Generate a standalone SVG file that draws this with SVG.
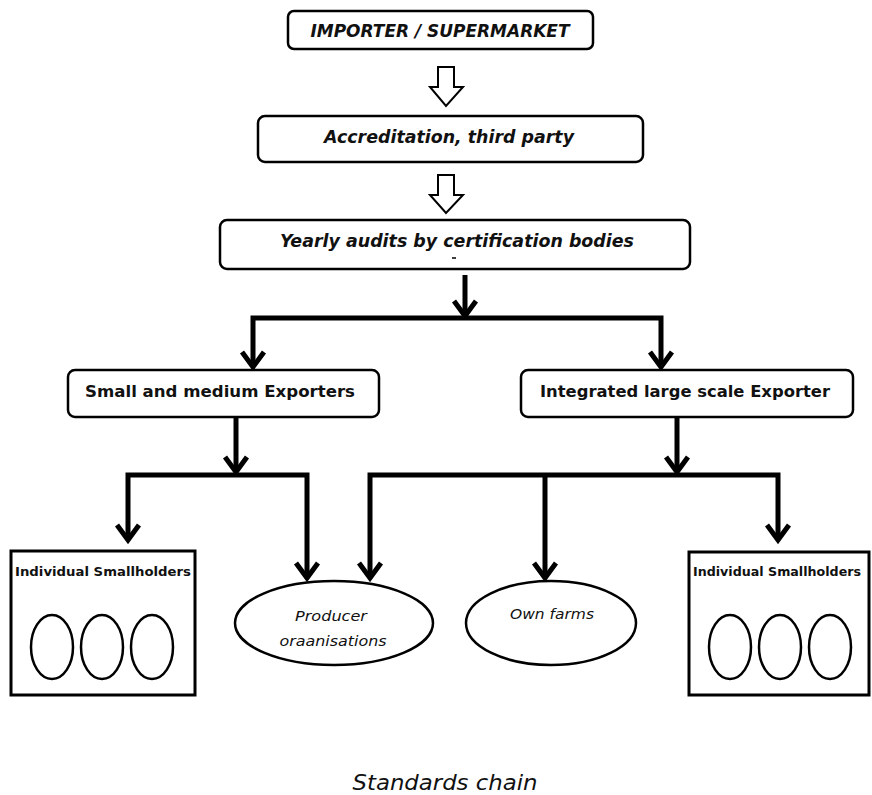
<svg xmlns="http://www.w3.org/2000/svg" xmlns:xlink="http://www.w3.org/1999/xlink" width="872" height="795" viewBox="0 0 872 795">
  <style>
    .box { fill: #fff; stroke: #000; stroke-width: 2.5; }
    .plain { fill: none; stroke: #000; stroke-width: 3; }
    .oval { fill: #fff; stroke: #000; stroke-width: 2.5; }
    .hollow { fill: #fff; stroke: #000; stroke-width: 2; stroke-linejoin: miter; }
    .wire { fill: none; stroke: #000; stroke-width: 5; stroke-linecap: butt; stroke-linejoin: miter; }
    .chev { fill: none; stroke: #000; stroke-width: 5; stroke-linejoin: miter; stroke-miterlimit: 10; }
    .t { font-family: "DejaVu Sans", "Liberation Sans", sans-serif; fill: #111; }
    .bi { font-weight: bold; font-style: italic; }
    .b { font-weight: bold; }
    .i { font-style: italic; }
  </style>
  <defs>
    <path id="chev" class="chev" d="M-11,-17 L0,-2 L11,-17"/>
  </defs>
  <rect width="872" height="795" fill="#fff"/>

  <g id="importer">
    <rect class="box" x="288" y="11" width="305" height="38" rx="6"/>
    <text class="t bi" x="440" y="37" font-size="17" text-anchor="middle" textLength="259" lengthAdjust="spacingAndGlyphs">IMPORTER / SUPERMARKET</text>
  </g>

  <g id="arrow-hollow-1">
    <path class="hollow" d="M438,67 L454,67 L454,87 L463,87 L446,106 L430,87 L438,87 Z"/>
  </g>

  <g id="accreditation">
    <rect class="box" x="258" y="116" width="385" height="46" rx="7"/>
    <text class="t i" x="449" y="143" font-size="17" font-weight="600" text-anchor="middle" textLength="250" lengthAdjust="spacingAndGlyphs">Accreditation, third party</text>
  </g>

  <g id="arrow-hollow-2">
    <path class="hollow" d="M438,175 L454,175 L454,195 L463,195 L446,213 L430,195 L438,195 Z"/>
  </g>

  <g id="audits">
    <rect class="box" x="220" y="220" width="470" height="49" rx="7"/>
    <text class="t bi" x="457" y="247" font-size="17" text-anchor="middle" textLength="354" lengthAdjust="spacingAndGlyphs">Yearly audits by certification bodies</text>
    <line x1="452" y1="258" x2="456" y2="258" stroke="#000" stroke-width="1.5"/>
  </g>

  <g id="small-medium-exporters">
    <rect class="box" x="68" y="370" width="311" height="47" rx="7"/>
    <text class="t b" x="85" y="397" font-size="16" textLength="270" lengthAdjust="spacingAndGlyphs">Small and medium Exporters</text>
  </g>

  <g id="integrated-exporter">
    <rect class="box" x="521" y="370" width="332" height="47" rx="7"/>
    <text class="t b" x="540" y="397" font-size="16" textLength="290" lengthAdjust="spacingAndGlyphs">Integrated large scale Exporter</text>
  </g>

  <g id="smallholders-left">
    <rect class="plain" x="11" y="551" width="184" height="144"/>
    <text class="t b" x="15" y="576" font-size="13" textLength="176" lengthAdjust="spacingAndGlyphs">Individual Smallholders</text>
    <ellipse class="oval" cx="52" cy="647" rx="21" ry="32"/>
    <ellipse class="oval" cx="102" cy="647" rx="21" ry="32"/>
    <ellipse class="oval" cx="152" cy="647" rx="21" ry="32"/>
  </g>

  <g id="producer-organisations">
    <ellipse class="oval" cx="334" cy="623" rx="99" ry="42"/>
    <text class="t i" x="331" y="621" font-size="14" text-anchor="middle" textLength="72" lengthAdjust="spacingAndGlyphs">Producer</text>
    <text class="t i" x="333" y="646" font-size="14" text-anchor="middle" textLength="107" lengthAdjust="spacingAndGlyphs">oraanisations</text>
  </g>

  <g id="own-farms">
    <ellipse class="oval" cx="551" cy="623" rx="85" ry="42"/>
    <text class="t i" x="552" y="619" font-size="14" text-anchor="middle" textLength="84" lengthAdjust="spacingAndGlyphs">Own farms</text>
  </g>

  <g id="smallholders-right">
    <rect class="plain" x="689" y="552" width="180" height="143"/>
    <text class="t b" x="693" y="576" font-size="13" textLength="168" lengthAdjust="spacingAndGlyphs">Individual Smallholders</text>
    <ellipse class="oval" cx="730" cy="647" rx="21" ry="32"/>
    <ellipse class="oval" cx="780" cy="647" rx="21" ry="32"/>
    <ellipse class="oval" cx="830" cy="647" rx="21" ry="32"/>
  </g>

  <g id="connectors">
    <!-- audits to the two exporter types -->
    <path class="wire" d="M465,275 L465,314"/>
    <use xlink:href="#chev" x="465" y="318"/>
    <path class="wire" d="M253,365 L253,318 L661,318 L661,365"/>
    <use xlink:href="#chev" x="253" y="369"/>
    <use xlink:href="#chev" x="661" y="369"/>

    <!-- small and medium exporters -->
    <path class="wire" d="M236,417 L236,471"/>
    <use xlink:href="#chev" x="236" y="474"/>
    <path class="wire" d="M128,538 L128,475 L307,475 L307,576"/>
    <use xlink:href="#chev" x="128" y="542"/>
    <use xlink:href="#chev" x="307" y="580"/>

    <!-- integrated exporter -->
    <path class="wire" d="M677,417 L677,471"/>
    <use xlink:href="#chev" x="677" y="474"/>
    <path class="wire" d="M370,576 L370,475 L778,475 L778,538"/>
    <path class="wire" d="M545,475 L545,576"/>
    <use xlink:href="#chev" x="370" y="580"/>
    <use xlink:href="#chev" x="545" y="580"/>
    <use xlink:href="#chev" x="778" y="542"/>
  </g>

  <g id="caption">
    <text class="t i" x="445" y="790" font-size="22" text-anchor="middle" textLength="185" lengthAdjust="spacingAndGlyphs">Standards chain</text>
  </g>
</svg>
